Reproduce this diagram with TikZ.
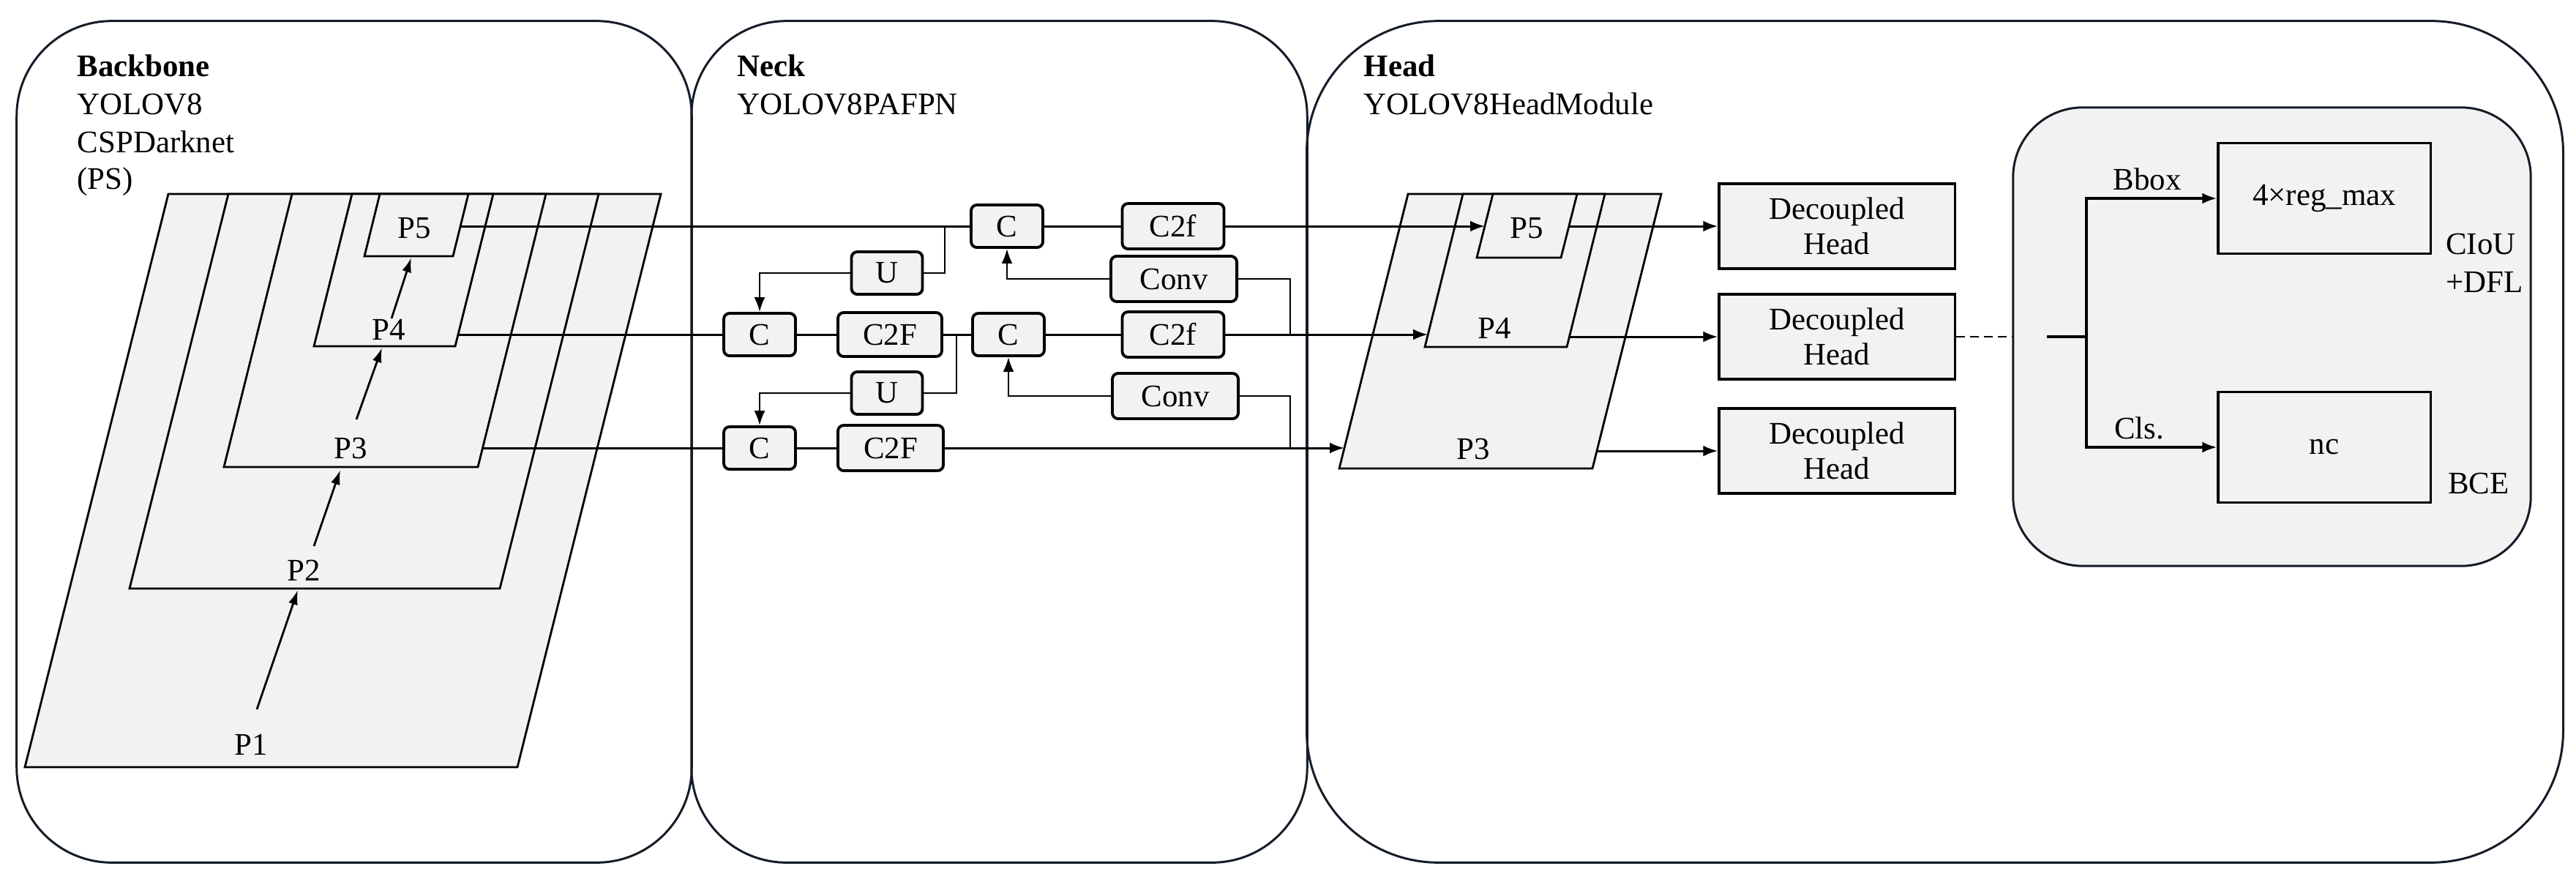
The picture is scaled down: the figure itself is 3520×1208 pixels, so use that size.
\documentclass[tikz,border=0pt]{standalone}
\usepackage{fontspec}
\setmainfont{Liberation Serif}
\usetikzlibrary{arrows.meta}
\definecolor{boxgray}{HTML}{F2F2F2}
\definecolor{edgec}{HTML}{141C28}
\begin{document}
\begin{tikzpicture}[x=0.01cm,y=-0.01cm,
  every node/.style={font=\fontsize{12.2}{13.7}\selectfont, inner sep=0pt},
  outerbox/.style={draw=edgec, line width=0.85pt, rounded corners=#1},
  layer/.style={draw=black, line width=0.8pt, fill=boxgray, line join=miter},
  nbox/.style={draw=black, line width=1.1pt, rounded corners=0.08cm, fill=boxgray, minimum height=0.58cm},
  dhbox/.style={draw=black, line width=0.9pt, fill=boxgray, minimum width=3.22cm, minimum height=1.16cm, align=center},
  obox/.style={draw=black, line width=0.9pt, fill=boxgray, minimum width=2.90cm, minimum height=1.51cm},
  mainline/.style={draw=black, line width=0.85pt},
  branch/.style={draw=black, line width=0.65pt},
  tip/.style={-{Latex[length=0.2cm,width=0.15cm]}},
  titlef/.style={font=\fontsize{12.2}{13.7}\selectfont\bfseries, anchor=base west},
  subf/.style={anchor=base west}
]
\useasboundingbox (0,0) rectangle (3520,1208);

% ---------- outer panels ----------
\node[outerbox=1.3cm, minimum width=9.22cm, minimum height=11.49cm] (bbpanel) at (484,603.5) {};
\node[outerbox=1.3cm, minimum width=8.41cm, minimum height=11.49cm] (neckpanel) at (1365.5,603.5) {};
\node[outerbox=1.8cm, minimum width=17.16cm, minimum height=11.49cm] (headpanel) at (2644,603.5) {};

% ---------- titles ----------
\node[titlef] (tbb) at (105,104) {Backbone};
\node[subf] (tbb1) at (105,156) {YOLOV8};
\node[subf] (tbb2) at (105,208) {CSPDarknet};
\node[subf] (tbb3) at (105,258) {(PS)};
\node[titlef] (tneck) at (1007,104) {Neck};
\node[subf] (tneck1) at (1007,156) {YOLOV8PAFPN};
\node[titlef] (thead) at (1863,104) {Head};
\node[subf] (thead1) at (1863,156) {YOLOV8HeadModule};

% ---------- backbone pyramid ----------
\draw[layer] (230,265) -- (903,265) -- (707,1048) -- (34,1048) -- cycle;
\draw[layer] (312,265) -- (818,265) -- (683,804) -- (177,804) -- cycle;
\draw[layer] (399,265) -- (746,265) -- (653,638) -- (306,638) -- cycle;
\draw[layer] (481,265) -- (674,265) -- (622,473) -- (429,473) -- cycle;
\draw[layer] (519,265) -- (640,265) -- (619,350) -- (498,350) -- cycle;
\node (bp1) at (343,1017) {P1};
\node (bp2) at (415,779) {P2};
\node (bp3) at (479,612) {P3};
\node (bp4) at (531,450) {P4};
\node (bp5) at (566,312) {P5};
\coordinate (a1s) at (351,969); \coordinate (a1e) at (407,806);
\coordinate (a2s) at (429,746); \coordinate (a2e) at (465,642);
\coordinate (a3s) at (487,573); \coordinate (a3e) at (522,475);
\coordinate (a4s) at (535,435); \coordinate (a4e) at (562,352);
\draw[branch, line width=0.8pt, -{Latex[length=0.2cm,width=0.13cm]}] (a1s) -- (a1e);
\draw[branch, line width=0.8pt, -{Latex[length=0.2cm,width=0.13cm]}] (a2s) -- (a2e);
\draw[branch, line width=0.8pt, -{Latex[length=0.2cm,width=0.13cm]}] (a3s) -- (a3e);
\draw[branch, line width=0.8pt, -{Latex[length=0.2cm,width=0.13cm]}] (a4s) -- (a4e);
\coordinate (bbP5out) at (629,309);
\coordinate (bbP4out) at (626,457);
\coordinate (bbP3out) at (659,612);

% ---------- head pyramid ----------
\draw[layer] (1924,265) -- (2270,265) -- (2176,640) -- (1830,640) -- cycle;
\draw[layer] (1999,265) -- (2193,265) -- (2141,474) -- (1947,474) -- cycle;
\draw[layer] (2040,265) -- (2155,265) -- (2133,352) -- (2018,352) -- cycle;
\node (hp5) at (2086,312) {P5};
\node (hp4) at (2042,448) {P4};
\node (hp3) at (2013,613) {P3};
\coordinate (hP5in) at (2029,309);
\coordinate (hP4in) at (1951,457);
\coordinate (hP3in) at (1837,612);
\coordinate (hP5out) at (2144,309);
\coordinate (hP4out) at (2144,460);
\coordinate (hP3out) at (2182,616);

% ---------- neck modules ----------
\node[nbox, minimum width=0.98cm] (ctop) at (1376,309) {C};
\node[nbox, minimum width=1.39cm, minimum height=0.62cm] (c2ftop) at (1603,309) {C2f};
\node[nbox, minimum width=0.97cm] (utop) at (1212,373) {U};
\node[nbox, minimum width=1.72cm, minimum height=0.62cm] (convtop) at (1604,381) {Conv};
\node[nbox, minimum width=0.98cm] (cml) at (1038,457) {C};
\node[nbox, minimum width=1.42cm, minimum height=0.60cm] (c2fm) at (1216,457) {C2F};
\node[nbox, minimum width=0.98cm] (cmr) at (1378,457) {C};
\node[nbox, minimum width=1.39cm, minimum height=0.62cm] (c2fmr) at (1603,457) {C2f};
\node[nbox, minimum width=0.97cm] (ulow) at (1212,537) {U};
\node[nbox, minimum width=1.72cm, minimum height=0.62cm] (convlow) at (1606,541) {Conv};
\node[nbox, minimum width=0.98cm] (cbot) at (1038,612) {C};
\node[nbox, minimum width=1.44cm, minimum height=0.62cm] (c2fb) at (1217,612) {C2F};

\coordinate (j1) at (1291,309);
\coordinate (j2) at (1763,457);
\coordinate (j3) at (1307,457);
\coordinate (j4) at (1763,612);

% top row
\draw[mainline] (bbP5out) -- (ctop.west);
\draw[mainline] (ctop) -- (c2ftop);
\draw[mainline, tip] (c2ftop.east) -- (hP5in);
\draw[branch] (j1) |- (utop.east);
\draw[branch, tip] (utop.west) -| (cml.north);
\draw[branch] (j2) |- (convtop.east);
\draw[branch, tip] (convtop.west) -| (ctop.south);
% middle row
\draw[mainline] (bbP4out) -- (cml.west);
\draw[mainline] (cml) -- (c2fm);
\draw[mainline] (c2fm) -- (cmr);
\draw[mainline] (cmr) -- (c2fmr);
\draw[mainline, tip] (c2fmr.east) -- (hP4in);
\draw[branch] (j3) |- (ulow.east);
\draw[branch, tip] (ulow.west) -| (cbot.north);
\draw[branch] (j4) |- (convlow.east);
\draw[branch, tip] (convlow.west) -| (cmr.south);
% bottom row
\draw[mainline] (bbP3out) -- (cbot.west);
\draw[mainline] (cbot) -- (c2fb);
\draw[mainline, tip] (c2fb.east) -- (hP3in);

% ---------- decoupled heads ----------
\node[dhbox] (dh1) at (2510,309) {Decoupled\\Head};
\node[dhbox] (dh2) at (2510,460) {Decoupled\\Head};
\node[dhbox] (dh3) at (2510,616) {Decoupled\\Head};
\draw[mainline, tip] (hP5out) -- (dh1.west);
\draw[mainline, tip] (hP4out) -- (dh2.west);
\draw[mainline, tip] (hP3out) -- (dh3.west);

% ---------- detail panel ----------
\node[draw=edgec, line width=0.85pt, rounded corners=0.95cm, fill=boxgray, minimum width=7.07cm, minimum height=6.26cm] (inner) at (3104.5,460) {};
\draw[black, line width=0.7pt, dash pattern=on 3.4pt off 2pt] (dh2.east) -- (inner.west);
\node[obox] (reg) at (3176,271) {4×reg\_max};
\node[obox] (nc) at (3176,611) {nc};
\coordinate (s0) at (2797,460);
\coordinate (jn) at (2851,460);
\draw[line width=1.1pt] (s0) -- (jn);
\draw[line width=1.0pt, tip] (jn) |- (reg.west);
\draw[line width=1.0pt, tip] (jn) |- (nc.west);
\node (lbbox) at (2934,245) {Bbox};
\node (lcls) at (2923,585) {Cls.};
\node (lciou) at (3390,333) {CIoU};
\node (ldfl) at (3395,385) {+DFL};
\node (lbce) at (3387,660) {BCE};
\end{tikzpicture}
\end{document}
